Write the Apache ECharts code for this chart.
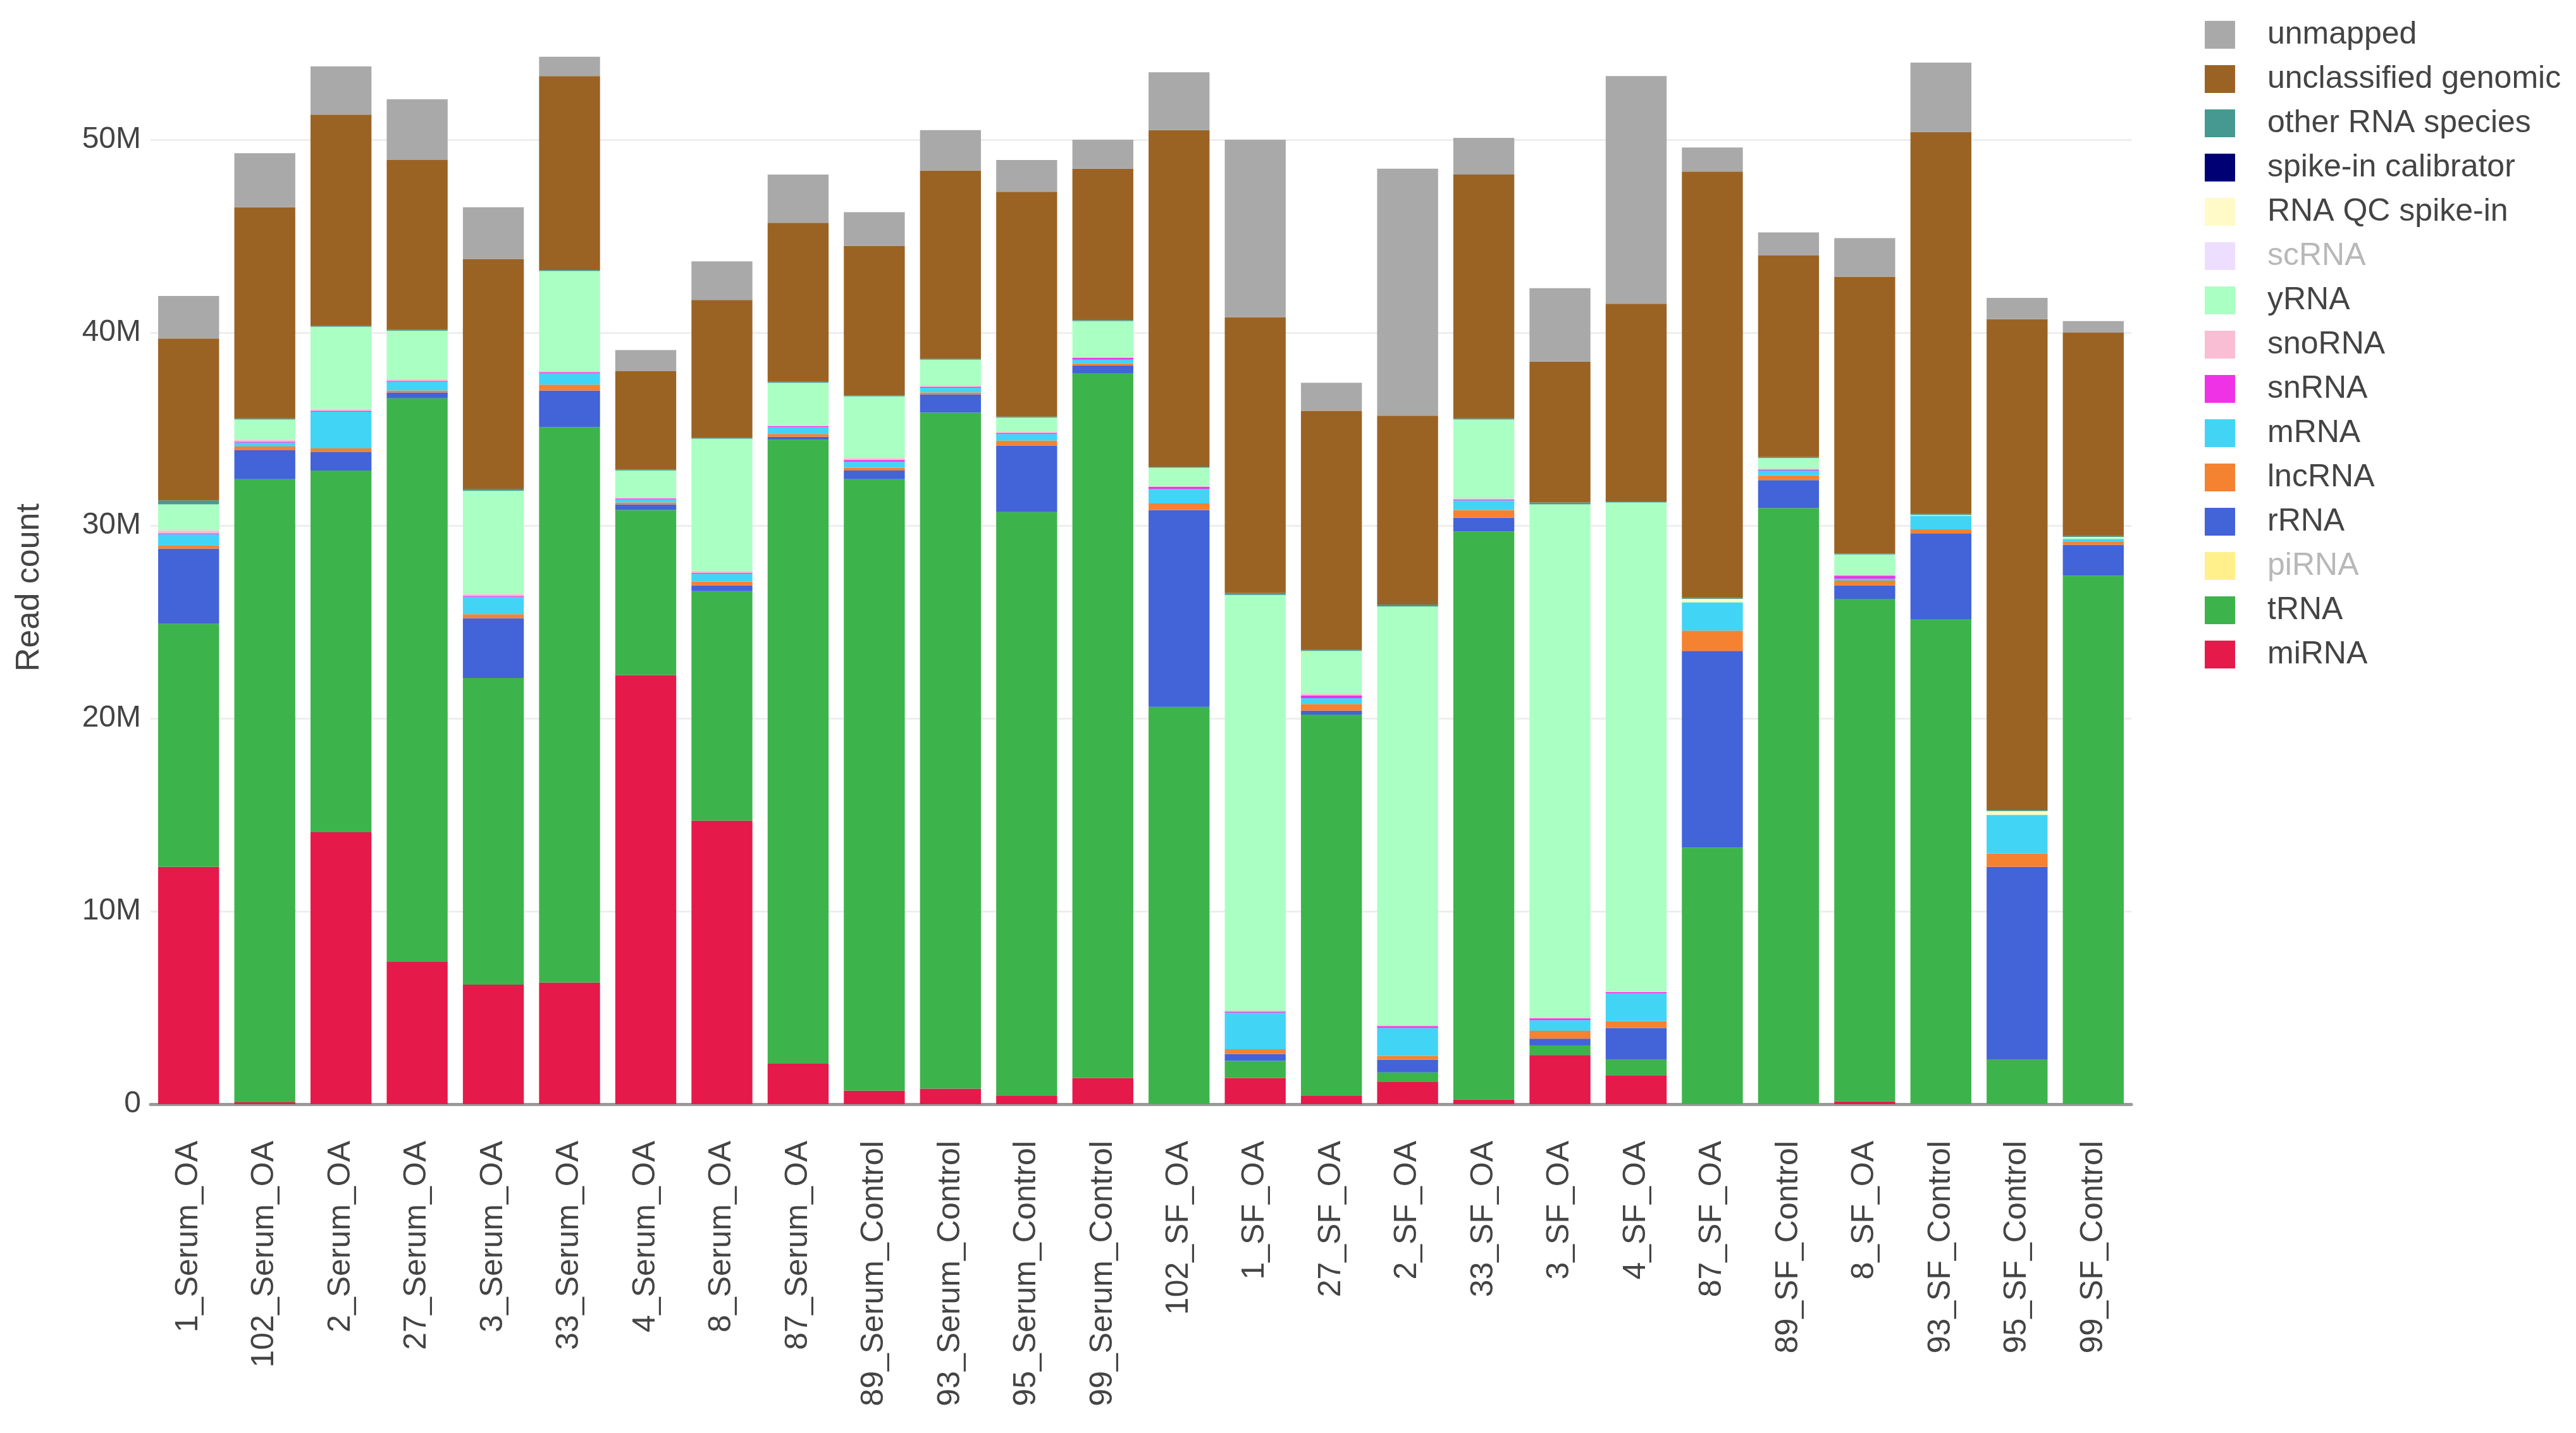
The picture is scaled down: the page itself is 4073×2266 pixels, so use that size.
<!DOCTYPE html>
<html>
<head>
<meta charset="utf-8">
<script src="https://cdn.jsdelivr.net/npm/echarts@6/dist/echarts.min.js"></script>
<style>
html,body{margin:0;padding:0;background:#fff;}
#chart{width:4073px;height:2266px;}
</style>
</head>
<body>
<div id="chart"></div>
<script>
// Categories (samples)
const categories = ['1_Serum_OA','102_Serum_OA','2_Serum_OA','27_Serum_OA','3_Serum_OA','33_Serum_OA','4_Serum_OA','8_Serum_OA','87_Serum_OA','89_Serum_Control','93_Serum_Control','95_Serum_Control','99_Serum_Control','102_SF_OA','1_SF_OA','27_SF_OA','2_SF_OA','33_SF_OA','3_SF_OA','4_SF_OA','87_SF_OA','89_SF_Control','8_SF_OA','93_SF_Control','95_SF_Control','99_SF_Control'];

// Read counts per class, in millions
const miRNA   = [12.3,0.1,14.1,7.4,6.2,6.3,22.25,14.7,2.1,0.7,0.8,0.45,1.35,0,1.35,0.45,1.15,0.25,2.55,1.5,0,0,0.15,0,0,0];
const tRNA    = [12.6,32.3,18.75,29.2,15.9,28.8,8.55,11.9,32.35,31.7,35.05,30.25,36.55,20.6,0.9,19.75,0.5,29.45,0.5,0.8,13.3,30.9,26.05,25.15,2.3,27.4];
const piRNA   = [0,0,0,0,0,0,0,0,0,0,0,0,0,0,0,0,0,0,0,0,0,0,0,0,0,0];
const rRNA    = [3.9,1.5,0.95,0.3,3.1,1.9,0.3,0.3,0.15,0.45,0.95,3.45,0.4,10.2,0.35,0.2,0.65,0.7,0.35,1.65,10.2,1.45,0.7,4.45,10.0,1.6];
const lncRNA  = [0.15,0.2,0.2,0.1,0.2,0.3,0.1,0.2,0.15,0.15,0.1,0.25,0.1,0.35,0.25,0.35,0.2,0.4,0.4,0.35,1.05,0.25,0.25,0.2,0.7,0.15];
const mRNA    = [0.6,0.2,1.9,0.45,0.9,0.6,0.15,0.4,0.35,0.3,0.25,0.35,0.2,0.75,1.9,0.3,1.45,0.5,0.55,1.45,1.45,0.25,0.1,0.7,2.0,0.15];
const snRNA   = [0.05,0.05,0.05,0.05,0.05,0.05,0.05,0.05,0.05,0.1,0.05,0.05,0.1,0.1,0.05,0.15,0.1,0.05,0.1,0.05,0,0.05,0.15,0,0,0];
const snoRNA  = [0.15,0.1,0.1,0.1,0.1,0.05,0.05,0.1,0.05,0.1,0.05,0.05,0.05,0.05,0.05,0.1,0.05,0.05,0.05,0.05,0,0.05,0.05,0,0,0];
const yRNA    = [1.35,1.05,4.25,2.5,5.35,5.2,1.4,6.85,2.2,3.2,1.35,0.75,1.85,0.95,21.55,2.2,21.7,4.1,26.6,25.35,0.05,0.55,1.05,0.05,0,0.05];
const scRNA   = [0,0,0,0,0,0,0,0,0,0,0,0,0,0,0,0,0,0,0,0,0,0,0,0,0,0];
const rnaQC   = [0,0,0,0,0,0,0,0,0,0,0,0,0,0,0,0,0,0,0,0,0.15,0,0,0,0.2,0.05];
const spikeIn = [0,0,0,0,0,0,0,0,0,0,0,0,0,0,0,0,0,0,0,0,0,0,0,0,0,0];
const otherRNA= [0.2,0.05,0.05,0.05,0.1,0.05,0.05,0.05,0.05,0.05,0.05,0.05,0.05,0.05,0.1,0.05,0.1,0.05,0.1,0.05,0.05,0.05,0.05,0.05,0.05,0.05];
const unclassified = [8.4,10.95,10.95,8.8,11.9,10.05,5.1,7.15,8.25,7.75,9.75,11.65,7.85,17.45,14.3,12.4,9.8,12.65,7.3,10.25,22.1,10.45,14.35,19.8,25.45,10.55];
const unmapped = [2.2,2.8,2.5,3.15,2.7,1.0,1.1,2.0,2.5,1.75,2.1,1.65,1.5,3.0,9.2,1.45,12.8,1.9,3.8,11.8,1.25,1.2,2.0,3.6,1.1,0.6];

// Y axis ticks (millions)
const yTicks = [0,10,20,30,40,50];

const FONT = "'Liberation Sans', Arial, sans-serif";

const seriesDefs = [
  ['miRNA', miRNA, '#e6194b'],
  ['tRNA', tRNA, '#3cb44b'],
  ['piRNA', piRNA, '#ffe119'],
  ['rRNA', rRNA, '#4363d8'],
  ['lncRNA', lncRNA, '#f58231'],
  ['mRNA', mRNA, '#42d4f4'],
  ['snRNA', snRNA, '#f032e6'],
  ['snoRNA', snoRNA, '#fabed4'],
  ['yRNA', yRNA, '#aaffc3'],
  ['scRNA', scRNA, '#dcbeff'],
  ['RNA QC spike-in', rnaQC, '#fffac8'],
  ['spike-in calibrator', spikeIn, '#000075'],
  ['other RNA species', otherRNA, '#469990'],
  ['unclassified genomic', unclassified, '#9a6324'],
  ['unmapped', unmapped, '#a9a9a9']
];
const hidden = ['piRNA','scRNA'];

const series = seriesDefs.map(([name, data, color]) => ({
  name: name,
  type: 'bar',
  stack: 'total',
  data: data,
  barCategoryGap: '20%',
  itemStyle: { color: color },
  emphasis: { disabled: true },
  silent: true
}));

const legendData = seriesDefs.slice().reverse().map(([name]) => {
  const item = { name: name, icon: 'rect' };
  if (hidden.includes(name)) {
    item.textStyle = { color: '#b8b8b8' };
    item.itemStyle = { opacity: 0.5 };
  }
  return item;
});

// grid line colours: one per tick line (0..50M), last (axis top) transparent
const gridColors = yTicks.map(() => '#eeeeee').concat(['rgba(0,0,0,0)']);

const chart = echarts.init(document.getElementById('chart'));
chart.setOption({
  backgroundColor: '#ffffff',
  animation: false,
  textStyle: { fontFamily: FONT },
  grid: { left: 238, right: 703, top: 38, bottom: 520 },
  legend: {
    orient: 'vertical',
    left: 3481,
    top: 25,
    itemWidth: 48,
    itemHeight: 44,
    itemGap: 20,
    selectedMode: false,
    textStyle: { fontSize: 50, color: '#444', fontFamily: FONT, padding: [0, 0, 0, 46] },
    data: legendData
  },
  xAxis: {
    type: 'category',
    data: categories,
    axisLine: { show: true, lineStyle: { color: '#9a9a9a', width: 5 } },
    axisTick: { show: false },
    axisLabel: { rotate: 90, fontSize: 50, color: '#444', margin: 58, fontFamily: FONT, interval: 0 },
    splitLine: { show: false }
  },
  yAxis: {
    type: 'value',
    min: 0,
    max: 56,
    interval: 10,
    name: 'Read count',
    nameLocation: 'middle',
    nameGap: 165,
    nameTextStyle: { fontSize: 52, color: '#444', fontFamily: FONT, padding: [0, 74, 0, 0] },
    axisLine: { show: false },
    axisTick: { show: false },
    axisLabel: {
      fontSize: 48, color: '#444', margin: 15, fontFamily: FONT,
      formatter: v => yTicks.includes(v) ? (v === 0 ? '0' : v + 'M') : ''
    },
    splitLine: { show: true, lineStyle: { color: gridColors, width: 3 } }
  },
  series: series
});
</script>
</body>
</html>
